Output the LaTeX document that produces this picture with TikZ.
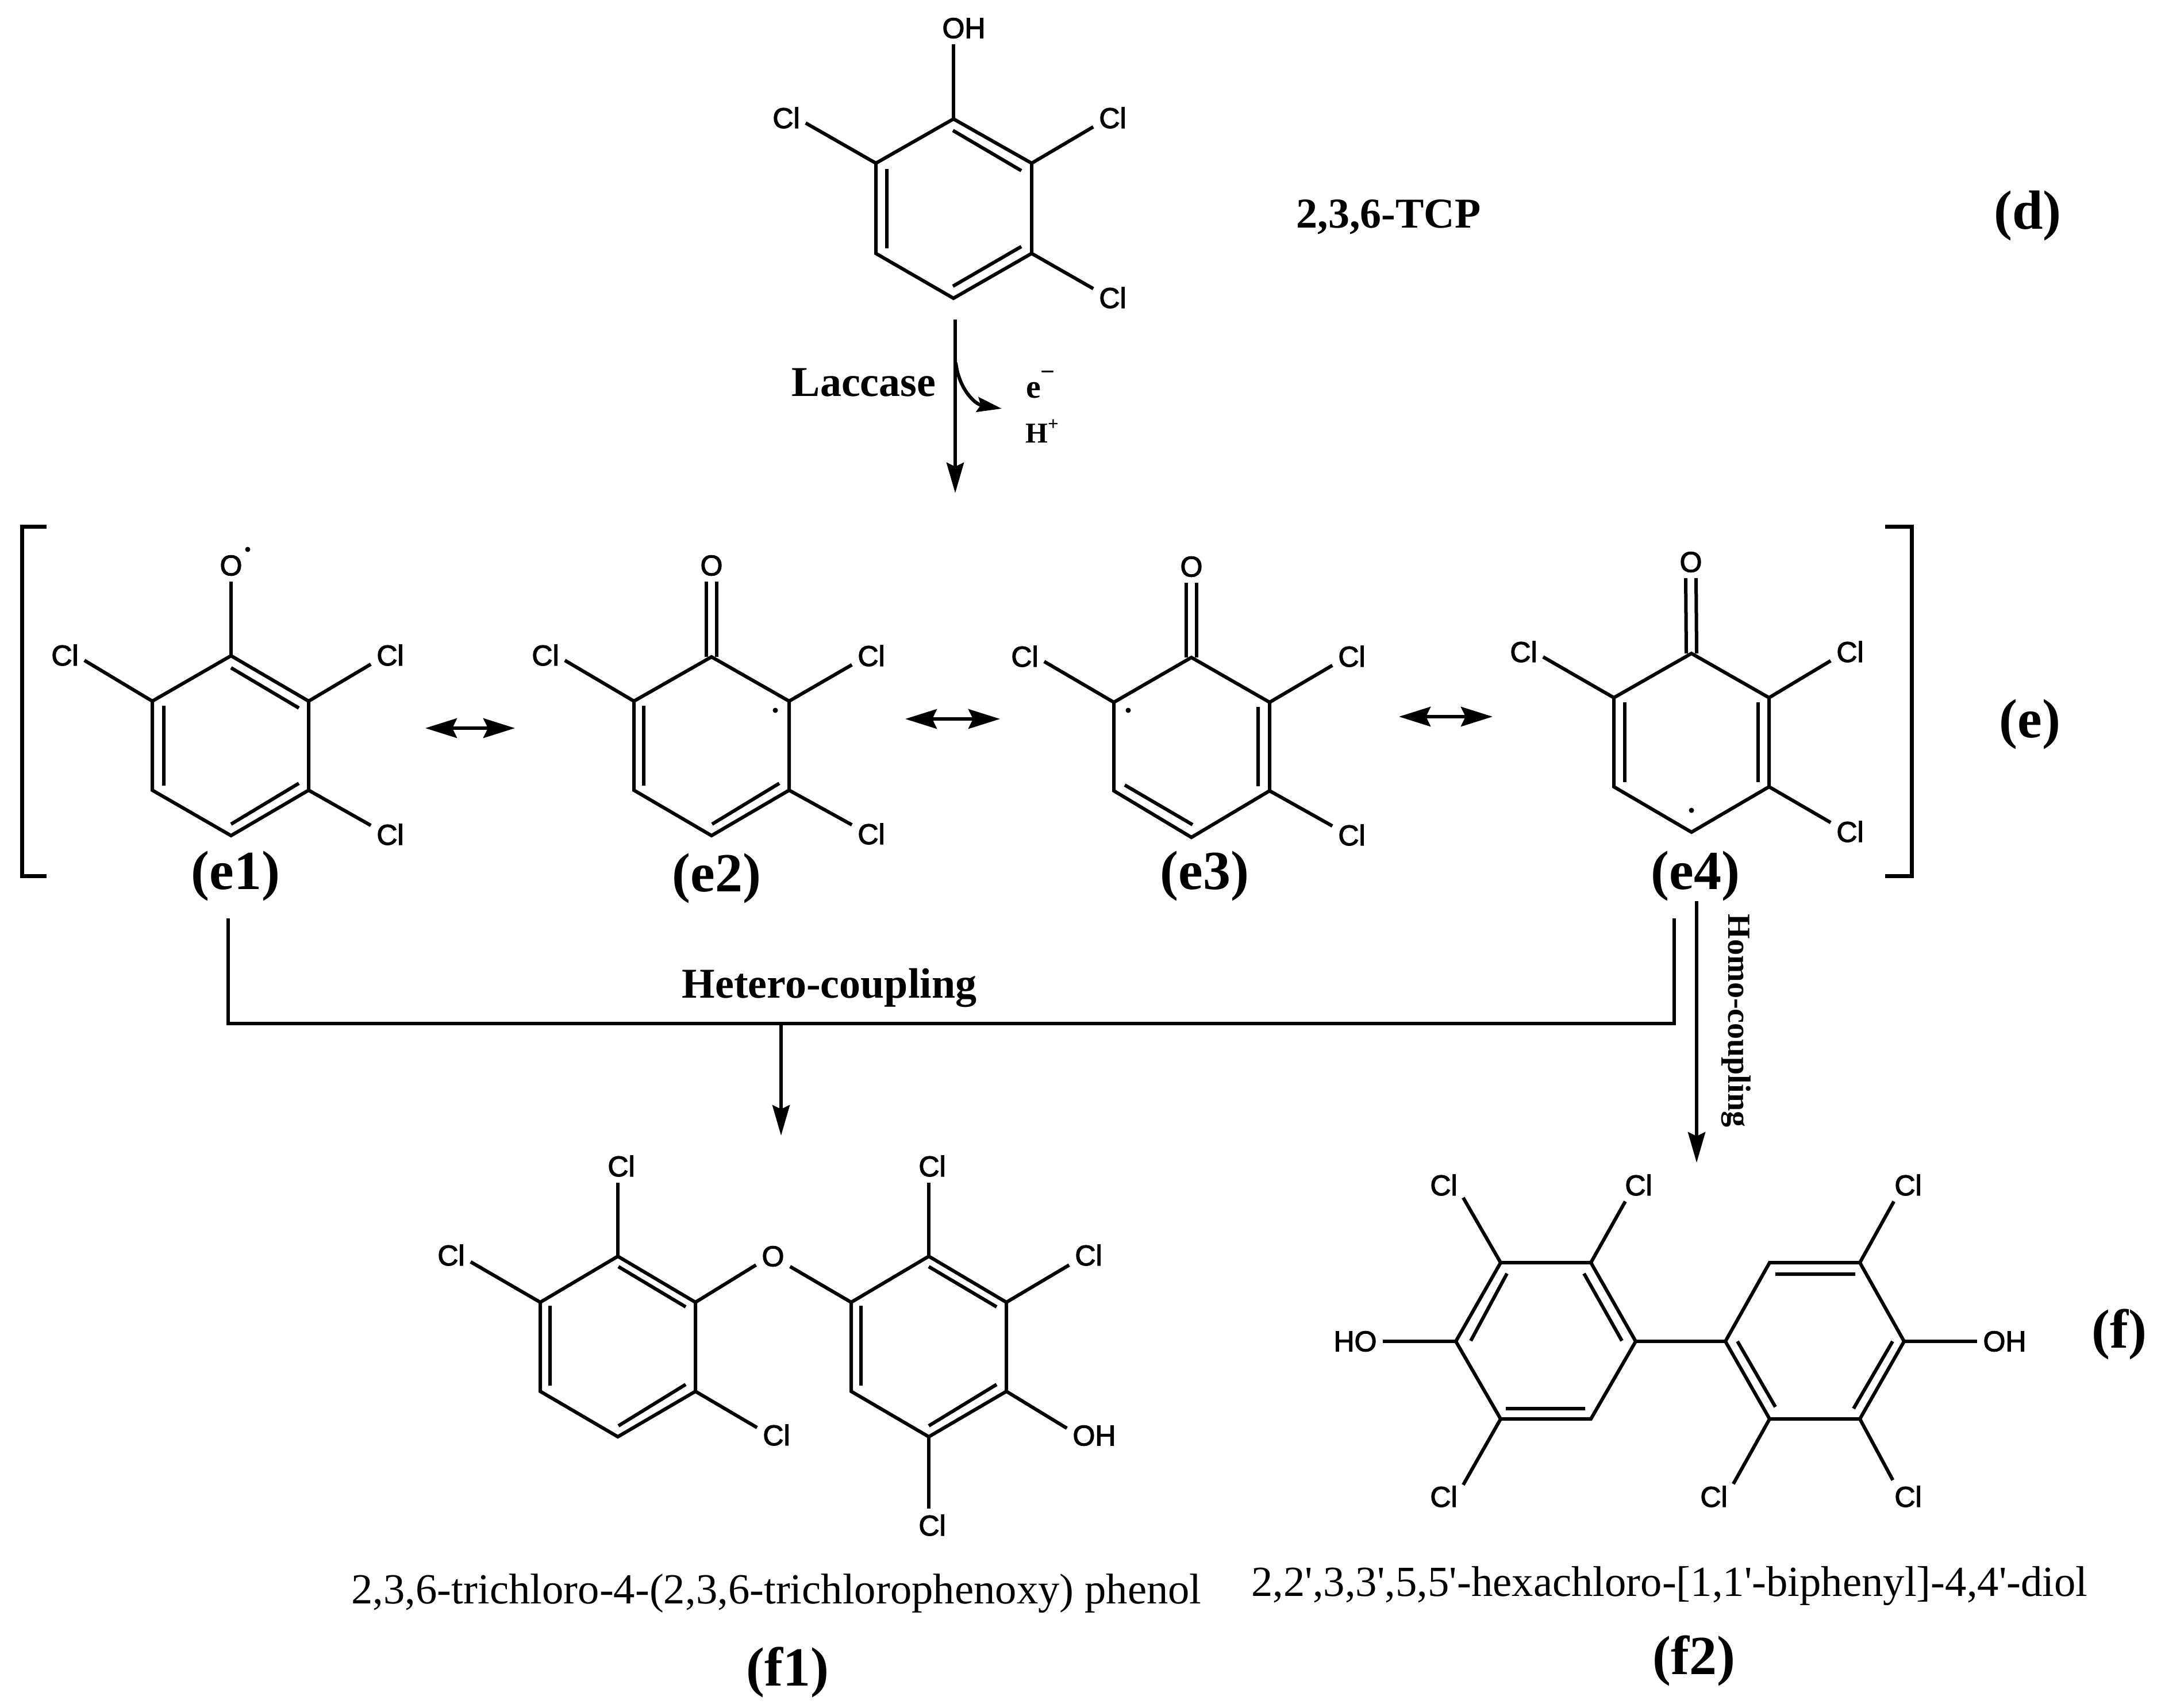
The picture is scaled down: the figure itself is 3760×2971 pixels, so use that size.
\documentclass[tikz,border=0pt]{standalone}
\usepackage{fontspec}
\setmainfont{Liberation Serif}
\newfontfamily\atomfont[FakeBold=2.5]{Liberation Sans}
\newfontfamily\namefont[Ligatures=ResetAll]{Liberation Serif}
\usetikzlibrary{arrows.meta}

\begin{document}
\begin{tikzpicture}
	[x=1pt,y=-1pt,
	bond/.style={black,line width=6pt,line join=miter},
	bracket/.style={black,line width=7pt},
	atom/.style={font=\atomfont\fontsize{50}{60}\selectfont,inner sep=10pt},
	radical/.style={circle,fill=black,inner sep=0pt,minimum size=9pt},
	tag/.style={font=\bfseries\fontsize{96}{110}\selectfont,anchor=base,inner sep=0pt},
	boldtext/.style={font=\bfseries\fontsize{74}{85}\selectfont,anchor=base,inner sep=0pt},
	nametext/.style={font=\namefont\fontsize{74.7}{85}\selectfont,anchor=base,inner sep=0pt},
	flow/.style={bond,-{Stealth[length=53pt,width=30pt,inset=7pt]}},
	swing/.style={line width=6pt,{Stealth[length=55pt,width=34pt,inset=8pt]}-{Stealth[length=55pt,width=34pt,inset=8pt]}}]
	\useasboundingbox (0,0) rectangle (3760,2971);

	% 2,3,6-TCP
	\coordinate (d1) at (1659,207);
	\coordinate (d2) at (1795,284);
	\coordinate (d3) at (1795,441);
	\coordinate (d4) at (1659,519);
	\coordinate (d5) at (1524,441);
	\coordinate (d6) at (1524,284);
	\draw[bond] (d1)--(d2)--(d3)--(d4)--(d5)--(d6)--cycle;
	\draw[bond] (1658,227)--(1777,297) (1658,498)--(1777,429) (1543,294)--(1543,432);
	\node[atom] (dOH) at (1677,49) {OH};
	\node[atom] (dCla) at (1368,205) {Cl};
	\node[atom] (dClb) at (1936,205) {Cl};
	\node[atom] (dClc) at (1936,518) {Cl};
	\draw[bond] (d1)--(d1|-dOH.south);
	\draw[bond] (d6)--(dCla.-15);
	\draw[bond] (d2)--(dClb.205);
	\draw[bond] (d3)--(dClc.155);
	\node[boldtext] (dname) at (2416,396) {2,3,6-TCP};
	\node[tag] (dtag) at (3528,398) {(d)};

	% laccase step
	\coordinate (lacS) at (1662,556);
	\coordinate (lacE) at (1662,858);
	\coordinate (lossS) at (1663,631);
	\coordinate (lossE) at (1743,711);
	\draw[flow] (lacS)--(lacE);
	\draw[bond,-{Stealth[length=43pt,width=26pt,inset=6pt]}] (lossS) .. controls (1668,675) and (1695,703) .. (lossE);
	\node[boldtext] (laccase) at (1503,689) {Laccase};
	\node[boldtext,font=\bfseries\fontsize{58}{70}\selectfont,anchor=base west] (eminus) at (1785,692) {e\raisebox{31pt}{\fontsize{44}{44}\selectfont −}};
	\node[boldtext,font=\bfseries\fontsize{50}{60}\selectfont,anchor=base west] (hplus) at (1784,770) {H\raisebox{22pt}{\fontsize{33}{33}\selectfont +}};

	% brackets
	\draw[bracket] (81,916)--(38,916)--(38,1524)--(81,1524);
	\draw[bracket] (3280,916)--(3326,916)--(3326,1524)--(3280,1524);
	\node[tag] (etag) at (3532,1283) {(e)};

	% e1
	\coordinate (ea1) at (402,1141);
	\coordinate (ea2) at (537,1220);
	\coordinate (ea3) at (537,1375);
	\coordinate (ea4) at (402,1454);
	\coordinate (ea5) at (265,1375);
	\coordinate (ea6) at (265,1220);
	\draw[bond] (ea1)--(ea2)--(ea3)--(ea4)--(ea5)--(ea6)--cycle;
	\draw[bond] (402,1162)--(520,1232) (402,1434)--(520,1363) (285,1228)--(285,1367);
	\node[atom] (eaO) at (402,984) {O};
	\node[radical] (eadot) at (431,956) {};
	\node[atom] (eaCla) at (113,1140) {Cl};
	\node[atom] (eaClb) at (679,1140) {Cl};
	\node[atom] (eaClc) at (679,1452) {Cl};
	\draw[bond] (ea1)--(eaO.south);
	\draw[bond] (ea6)--(eaCla.-15);
	\draw[bond] (ea2)--(eaClb.205);
	\draw[bond] (ea3)--(eaClc.155);
	\node[tag] (e1tag) at (410,1547) {(e1)};

	% e2
	\coordinate (eb1) at (1238,1143);
	\coordinate (eb2) at (1373,1220);
	\coordinate (eb3) at (1373,1375);
	\coordinate (eb4) at (1238,1454);
	\coordinate (eb5) at (1103,1375);
	\coordinate (eb6) at (1103,1220);
	\draw[bond] (eb1)--(eb2)--(eb3)--(eb4)--(eb5)--(eb6)--cycle;
	\draw[bond] (1239,1434)--(1356,1363) (1120,1228)--(1120,1367);
	\node[atom] (ebO) at (1238,984) {O};
	\node[radical] (ebdot) at (1349,1236) {};
	\node[atom] (ebCla) at (949,1140) {Cl};
	\node[atom] (ebClb) at (1516,1141) {Cl};
	\node[atom] (ebClc) at (1516,1451) {Cl};
	\draw[bond] ([xshift=-9pt]eb1)--([xshift=-9pt]ebO.south) ([xshift=9pt]eb1)--([xshift=9pt]ebO.south);
	\draw[bond] (eb6)--(ebCla.-15);
	\draw[bond] (eb2)--(ebClb.205);
	\draw[bond] (eb3)--(ebClc.155);
	\node[tag] (e2tag) at (1247,1551) {(e2)};

	% e3
	\coordinate (ec1) at (2073,1144);
	\coordinate (ec2) at (2209,1222);
	\coordinate (ec3) at (2209,1376);
	\coordinate (ec4) at (2073,1457);
	\coordinate (ec5) at (1938,1376);
	\coordinate (ec6) at (1938,1222);
	\draw[bond] (ec1)--(ec2)--(ec3)--(ec4)--(ec5)--(ec6)--cycle;
	\draw[bond] (1957,1366)--(2075,1435) (2189,1230)--(2189,1368);
	\node[atom] (ecO) at (2073,986) {O};
	\node[radical] (ecdot) at (1963,1236) {};
	\node[atom] (ecCla) at (1783,1142) {Cl};
	\node[atom] (ecClb) at (2352,1142) {Cl};
	\node[atom] (ecClc) at (2352,1453) {Cl};
	\draw[bond] ([xshift=-9pt]ec1)--([xshift=-9pt]ecO.south) ([xshift=9pt]ec1)--([xshift=9pt]ecO.south);
	\draw[bond] (ec6)--(ecCla.-15);
	\draw[bond] (ec2)--(ecClb.205);
	\draw[bond] (ec3)--(ecClc.155);
	\node[tag] (e3tag) at (2096,1547) {(e3)};

	% e4
	\coordinate (ed1) at (2943,1137);
	\coordinate (ed2) at (3078,1214);
	\coordinate (ed3) at (3078,1369);
	\coordinate (ed4) at (2943,1448);
	\coordinate (ed5) at (2808,1369);
	\coordinate (ed6) at (2808,1214);
	\draw[bond] (ed1)--(ed2)--(ed3)--(ed4)--(ed5)--(ed6)--cycle;
	\draw[bond] (2827,1222)--(2827,1361) (3059,1222)--(3059,1361);
	\node[atom] (edO) at (2942,978) {O};
	\node[radical] (eddot) at (2943,1410) {};
	\node[atom] (edCla) at (2651,1134) {Cl};
	\node[atom] (edClb) at (3219,1134) {Cl};
	\node[atom] (edClc) at (3219,1447) {Cl};
	\draw[bond] ([xshift=-9pt]ed1)--([xshift=-9pt]edO.south) ([xshift=9pt]ed1)--([xshift=9pt]edO.south);
	\draw[bond] (ed6)--(edCla.-15);
	\draw[bond] (ed2)--(edClb.205);
	\draw[bond] (ed3)--(edClc.155);
	\node[tag] (e4tag) at (2950,1547) {(e4)};

	% resonance arrows
	\coordinate (swaL) at (740,1267);
	\coordinate (swaR) at (896,1267);
	\coordinate (swbL) at (1575,1251);
	\coordinate (swbR) at (1740,1251);
	\coordinate (swcL) at (2434,1247);
	\coordinate (swcR) at (2597,1247);
	\draw[swing] (swaL)--(swaR);
	\draw[swing] (swbL)--(swbR);
	\draw[swing] (swcL)--(swcR);

	% coupling lines
	\coordinate (hetL) at (397,1598);
	\coordinate (hetLb) at (397,1781);
	\coordinate (hetR) at (2913,1598);
	\coordinate (hetRb) at (2913,1781);
	\coordinate (hetM) at (1359,1781);
	\coordinate (hetE) at (1359,1976);
	\coordinate (homS) at (2952,1568);
	\coordinate (homE) at (2952,2023);
	\draw[bond] (hetL)--(hetLb)--(hetRb)--(hetR);
	\draw[flow] (hetM)--(hetE);
	\draw[flow] (homS)--(homE);
	\node[boldtext] (hetero) at (1443,1736) {Hetero-coupling};
	\node[boldtext,font=\bfseries\fontsize{56}{66}\selectfont,rotate=-90] (homo) at (3007,1776) {Homo-coupling};

	% f1 left ring
	\coordinate (fa1) at (1075,2186);
	\coordinate (fa2) at (1210,2266);
	\coordinate (fa3) at (1210,2421);
	\coordinate (fa4) at (1075,2500);
	\coordinate (fa5) at (940,2421);
	\coordinate (fa6) at (940,2266);
	\draw[bond] (fa1)--(fa2)--(fa3)--(fa4)--(fa5)--(fa6)--cycle;
	\draw[bond] (1076,2204)--(1193,2274) (1076,2481)--(1193,2409) (957,2272)--(957,2411);
	% f1 right ring
	\coordinate (fb1) at (1616,2186);
	\coordinate (fb2) at (1751,2266);
	\coordinate (fb3) at (1751,2421);
	\coordinate (fb4) at (1616,2500);
	\coordinate (fb5) at (1481,2421);
	\coordinate (fb6) at (1481,2266);
	\draw[bond] (fb1)--(fb2)--(fb3)--(fb4)--(fb5)--(fb6)--cycle;
	\draw[bond] (1616,2204)--(1734,2274) (1616,2481)--(1734,2409) (1498,2272)--(1498,2411);
	\node[atom] (faCla) at (1081,2029) {Cl};
	\node[atom] (faClb) at (785,2184) {Cl};
	\node[atom] (faClc) at (1351,2497) {Cl};
	\node[atom] (fO) at (1345,2186) {O};
	\node[atom] (fbCla) at (1622,2029) {Cl};
	\node[atom] (fbClb) at (1894,2184) {Cl};
	\node[atom] (fbOH) at (1904,2498) {OH};
	\node[atom] (fbClc) at (1622,2654) {Cl};
	\draw[bond] (fa1)--(fa1|-faCla.south);
	\draw[bond] (fa6)--(faClb.-19);
	\draw[bond] (fa3)--(faClc.159);
	\draw[bond] (fa2)--(fO.207);
	\draw[bond] (fb6)--(fO.-31);
	\draw[bond] (fb1)--(fb1|-fbCla.south);
	\draw[bond] (fb2)--(fbClb.207);
	\draw[bond] (fb3)--(fbOH.165);
	\draw[bond] (fb4)--(fb4|-fbClc.north);
	\node[nametext] (f1name) at (1351,2790) {2,3,6-trichloro-4-(2,3,6-trichlorophenoxy) phenol};
	\node[tag] (f1tag) at (1370,2933) {(f1)};

	% f2 left ring
	\coordinate (ga1) at (2533,2334);
	\coordinate (ga2) at (2611,2197);
	\coordinate (ga3) at (2768,2197);
	\coordinate (ga4) at (2846,2334);
	\coordinate (ga5) at (2768,2469);
	\coordinate (ga6) at (2611,2469);
	\draw[bond] (ga1)--(ga2)--(ga3)--(ga4)--(ga5)--(ga6)--cycle;
	\draw[bond] (2622,2216)--(2559,2333) (2756,2216)--(2822,2333) (2620,2451)--(2758,2451);
	% f2 right ring
	\coordinate (gb1) at (3002,2334);
	\coordinate (gb2) at (3079,2197);
	\coordinate (gb3) at (3236,2197);
	\coordinate (gb4) at (3313,2334);
	\coordinate (gb5) at (3236,2469);
	\coordinate (gb6) at (3079,2469);
	\draw[bond] (gb1)--(gb2)--(gb3)--(gb4)--(gb5)--(gb6)--cycle;
	\draw[bond] (3089,2217)--(3228,2217) (3023,2334)--(3089,2448) (3293,2334)--(3225,2451);
	\draw[bond] (ga4)--(gb1);
	\node[atom] (gaHO) at (2358,2334) {HO};
	\node[atom] (gaCla) at (2512,2062) {Cl};
	\node[atom] (gaClb) at (2851,2062) {Cl};
	\node[atom] (gaClc) at (2512,2604) {Cl};
	\node[atom] (gbOH) at (3488,2334) {OH};
	\node[atom] (gbCla) at (3320,2062) {Cl};
	\node[atom] (gbClb) at (2982,2604) {Cl};
	\node[atom] (gbClc) at (3320,2604) {Cl};
	\draw[bond] (ga1)--(gaHO.east);
	\draw[bond] (ga2)--(gaCla.-33);
	\draw[bond] (ga3)--(gaClb.231);
	\draw[bond] (ga6)--(gaClc.31);
	\draw[bond] (gb4)--(gbOH.west);
	\draw[bond] (gb3)--(gbCla.229);
	\draw[bond] (gb6)--(gbClb.33);
	\draw[bond] (gb5)--(gbClc.133);
	\node[nametext] (f2name) at (2905,2777) {2,2',3,3',5,5'-hexachloro-[1,1'-biphenyl]-4,4'-diol};
	\node[tag] (f2tag) at (2947,2913) {(f2)};
	\node[tag] (ftag) at (3687,2345) {(f)};
\end{tikzpicture}
\end{document}
